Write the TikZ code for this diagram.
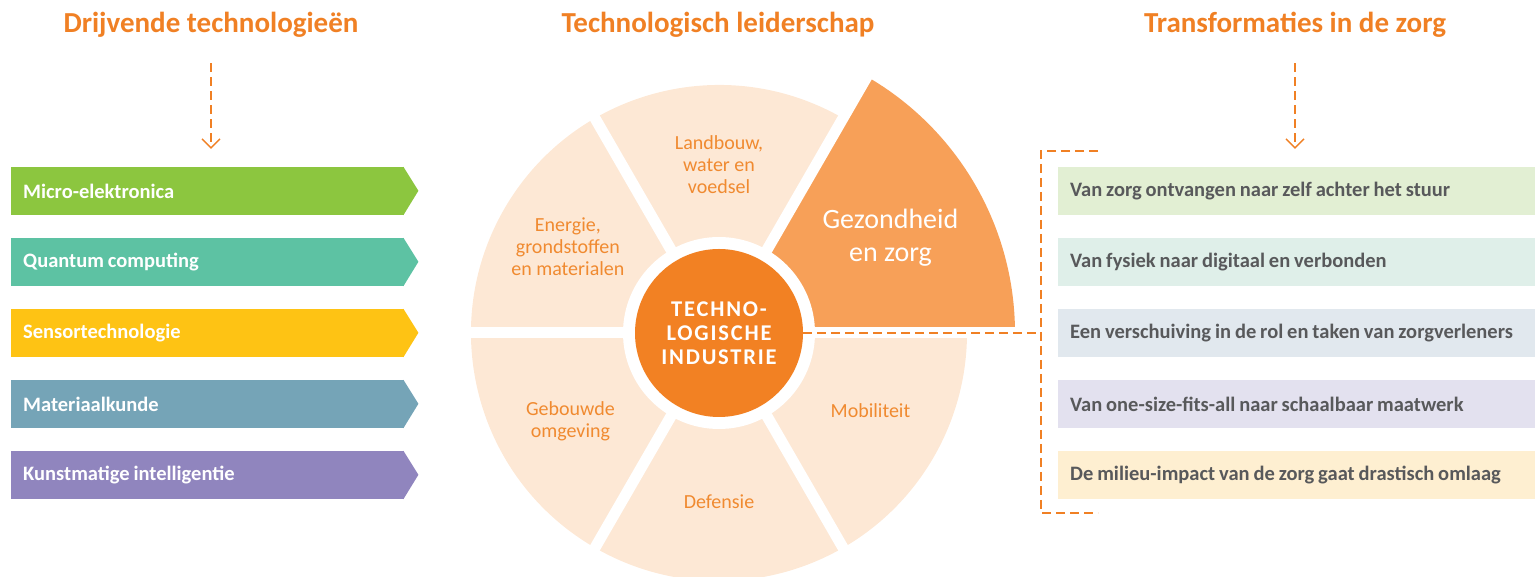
\documentclass[tikz,border=0pt]{standalone}
\usepackage{fontspec}
\setmainfont{Carlito}
\usetikzlibrary{arrows.meta,positioning,calc}
\definecolor{oranje}{HTML}{F08024}
\definecolor{sectorlicht}{HTML}{FDE8D5}
\definecolor{sectorzorg}{HTML}{F7A058}
\definecolor{kernkleur}{HTML}{F28123}
\definecolor{sectortekst}{HTML}{F08A30}
\definecolor{grijstekst}{HTML}{58595B}
\definecolor{groen}{HTML}{8CC63F}
\definecolor{turkoois}{HTML}{5DC2A3}
\definecolor{geel}{HTML}{FEC314}
\definecolor{blauwgrijs}{HTML}{75A4B7}
\definecolor{paars}{HTML}{9085BE}
\definecolor{lgroen}{HTML}{E2EFD3}
\definecolor{lturkoois}{HTML}{DFEFE9}
\definecolor{lblauw}{HTML}{E1E8EE}
\definecolor{lpaars}{HTML}{E3E1EF}
\definecolor{lgeel}{HTML}{FEEFD1}
\newcommand{\krapspatie}{\spaceskip=0.19em\relax}

\begin{document}
\begin{tikzpicture}[x=1pt,y=1pt,>={Straight Barb[length=9pt,width=18pt]},
  titel/.style={anchor=base,font=\bfseries\fontsize{29}{34}\selectfont,text=oranje},
  streep/.style={oranje,line width=1.4pt,dash pattern=on 9pt off 5pt},
  tech/.style={anchor=west,minimum height=48pt,text width=369pt,inner xsep=12pt,inner ysep=0pt,
    align=left,text=white,font=\bfseries\fontsize{20.5}{24}\selectfont},
  trans/.style={anchor=west,minimum height=48pt,text width=480pt,inner xsep=12pt,inner ysep=0pt,
    align=left,text=grijstekst,font=\bfseries\fontsize{20.5}{24}\selectfont},
  sector/.style={align=center,text=sectortekst,font=\fontsize{20}{22}\selectfont}]
\useasboundingbox (0,0) rectangle (1535,577);

% kolomtitels
\node[titel] (titel1) at (211,544) {Drijvende technologieën};
\node[titel] (titel2) at (718,544) {Technologisch leiderschap};
\node[titel] (titel3) at (1295,544) {Transformaties in de zorg};

% drijvende technologieen
\foreach \y/\kl/\tekst [count=\i] in {386/groen/Micro-elektronica,315/turkoois/Quantum computing,
    244/geel/Sensortechnologie,173/blauwgrijs/Materiaalkunde,102/paars/Kunstmatige intelligentie}{
  \node[tech,fill=\kl] (tech\i) at (11,\y) {\krapspatie\tekst};
  \fill[\kl] ([xshift=-1pt]tech\i.north east) -- ++(15,-24) -- ([xshift=-1pt]tech\i.south east) -- cycle;
}

% transformaties
\foreach \y/\kl/\tekst [count=\i] in {386/lgroen/Van zorg ontvangen naar zelf achter het stuur,
    315/lturkoois/Van fysiek naar digitaal en verbonden,
    244/lblauw/Een verschuiving in de rol en taken van zorgverleners,
    173/lpaars/Van one-size-fits-all naar schaalbaar maatwerk,
    102/lgeel/De milieu-impact van de zorg gaat drastisch omlaag}{
  \node[trans,fill=\kl] (trans\i) at (1058,\y) {\krapspatie\tekst};
}

\draw[streep,->,shorten <=22pt,shorten >=18pt] (titel1.south) -- (titel1.south |- tech1.north);
\draw[streep,->,shorten <=22pt,shorten >=18pt] (titel3.south) -- (titel3.south |- trans1.north);

% het wiel
\coordinate (wiel) at (719,244);
\fill[sectorlicht] (wiel) -- ++(60:248) arc (60:360:248) -- cycle;
\fill[sectorzorg] (wiel) -- ++(0:296) arc (0:60:296) -- cycle;
\foreach \a in {0,60,...,300}
  \draw[white,line width=11pt] (wiel) -- ++(\a:300);
\fill[white] (wiel) circle (96);
\node[circle,fill=kernkleur,minimum size=168pt,inner sep=0pt,align=center,text=white,
  font=\bfseries\fontsize{22.5}{24}\selectfont\addfontfeature{LetterSpace=8}] (kern) at (wiel)
  {TECHNO-\\LOGISCHE\\INDUSTRIE};

\node[sector] (landbouw) at ($(wiel)+(90:168)$) {Landbouw,\\water en\\voedsel};
\node[sector] (energie) at ($(wiel)+(150.3:174)$) {Energie,\\grondstoffen\\en materialen};
\node[sector] (gebouwd) at ($(wiel)+(210.8:173)$) {Gebouwde\\omgeving};
\node[sector] (defensie) at ($(wiel)+(270:169)$) {Defensie};
\node[sector] (mobiliteit) at ($(wiel)+(-27:170)$) {Mobiliteit};
\node[sector,text=white,font=\fontsize{28}{33}\selectfont] (zorg) at ($(wiel)+(29:196)$) {Gezondheid\\en zorg};

% verbinding naar de transformaties
\coordinate (haak) at (1041,244);
\coordinate (haakboven) at (1098,426);
\coordinate (haakonder) at (1098,64);
\draw[streep] (kern.east) -- (haak);
\draw[streep] (haakboven) -| (haak) |- (haakonder);
\end{tikzpicture}
\end{document}
